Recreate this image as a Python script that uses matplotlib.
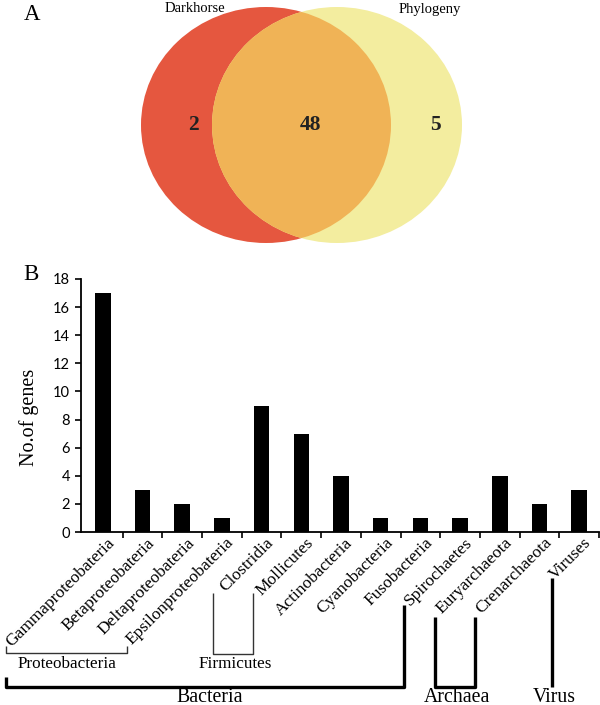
import numpy as np
import matplotlib
matplotlib.use("Agg")
import matplotlib.pyplot as plt
import matplotlib.transforms as mtransforms
from matplotlib.patches import Ellipse

# --- data ---
venn_sets = ["Darkhorse", "Phylogeny"]
venn_counts = [2, 48, 5]   # only Darkhorse, both, only Phylogeny

taxa = ["Gammaproteobateria", "Betaproteobateria", "Deltaproteobateria",
        "Epsilonproteobateria", "Clostridia", "Mollicutes", "Actinobacteria",
        "Cyanobacteria", "Fusobacteria", "Spirochaetes", "Euryarchaeota",
        "Crenarchaeota", "Viruses"]
n_genes = [17, 3, 2, 1, 9, 7, 4, 1, 1, 1, 4, 2, 3]
y_ticks = list(range(0, 19, 2))

SERIF = ["Liberation Serif", "DejaVu Serif"]
SANS = ["Lato", "DejaVu Sans"]
W, H = 600, 705

plt.rcParams["font.family"] = SERIF

fig = plt.figure(figsize=(W / 100, H / 100), dpi=100)

# overlay in pixel coords for venn + group brackets
ov = fig.add_axes([0, 0, 1, 1])
ov.set_xlim(0, W)
ov.set_ylim(H, 0)
ov.axis("off")

# ---- panel A: venn ----
red, yellow, orange = "#E5573F", "#F3ED9F", "#F0B356"
left = Ellipse((266, 125), 250, 236, color=red, lw=0)
right = Ellipse((337, 125), 250, 236, color=yellow, lw=0)
ov.add_patch(left)
ov.add_patch(right)
both = Ellipse((266, 125), 250, 236, color=orange, lw=0)
ov.add_patch(both)
both.set_clip_path(right)

for x, c in zip([193, 311, 435], venn_counts):
    ov.text(x, 125, str(c), ha="center", va="center", fontsize=15.5,
            fontweight="bold", color="#222222")
ov.text(195, 8, venn_sets[0], ha="center", va="center", fontsize=10.5)
ov.text(430, 10, venn_sets[1], ha="center", va="center", fontsize=10.5)
ov.text(32, 15, "A", ha="center", va="center", fontsize=16.5)
ov.text(31, 275, "B", ha="center", va="center", fontsize=16.5)

# ---- panel B: bars ----
ax = fig.add_axes([81 / W, (H - 532) / H, 518 / W, 253 / H])
x = np.arange(len(taxa))
ax.bar(x, n_genes, width=0.39, color="black")
ax.set_xlim(-0.55, len(taxa) - 0.5)
ax.set_ylim(0, 18)
ax.set_yticks(y_ticks)
ax.spines[["top", "right"]].set_visible(False)
for s in ["left", "bottom"]:
    ax.spines[s].set_linewidth(1.3)
ax.tick_params(axis="y", direction="out", length=4, width=1.2, pad=4, labelsize=10.5)
for lab in ax.get_yticklabels():
    lab.set_family(SANS)

ax.set_xticks(x)
ax.set_xticks(np.arange(0.5, len(taxa), 1), minor=True)
ax.tick_params(axis="x", which="major", length=0, pad=2)
ax.tick_params(axis="x", which="minor", direction="out", length=4, width=1.2)
ax.set_xticklabels(taxa, rotation=45, ha="right", va="top",
                   rotation_mode="anchor", fontsize=12.5)
shift = mtransforms.ScaledTranslation(4 / 100, 0, fig.dpi_scale_trans)
for lab in ax.get_xticklabels():
    lab.set_transform(lab.get_transform() + shift)

fig.text(29.5 / W, 1 - 417 / H, "No.of genes", rotation=90, ha="center",
         va="center", fontsize=14.5)

# ---- group brackets ----
thin = dict(color="#333333", lw=1.0, solid_capstyle="butt")
thick = dict(color="black", lw=2.4, solid_capstyle="butt")
ov.plot([6, 6, 127, 127], [646, 653, 653, 646], **thin)
ov.plot([213, 213, 253, 253], [593, 654, 654, 593], **thin)
ov.plot([6, 6, 404, 404], [677, 687, 687, 605], **thick)
ov.plot([435, 435, 475, 475], [617, 687, 687, 617], **thick)
ov.plot([552, 552], [578, 687], **thick)

ov.text(67, 668.5, "Proteobacteria", ha="center", va="baseline", fontsize=12.3)
ov.text(235, 668.5, "Firmicutes", ha="center", va="baseline", fontsize=12.3)
ov.text(210, 701.5, "Bacteria", ha="center", va="baseline", fontsize=14.3)
ov.text(457, 701.5, "Archaea", ha="center", va="baseline", fontsize=14.3)
ov.text(554, 701.5, "Virus", ha="center", va="baseline", fontsize=14.3)

fig.savefig("out.png", dpi=100)
